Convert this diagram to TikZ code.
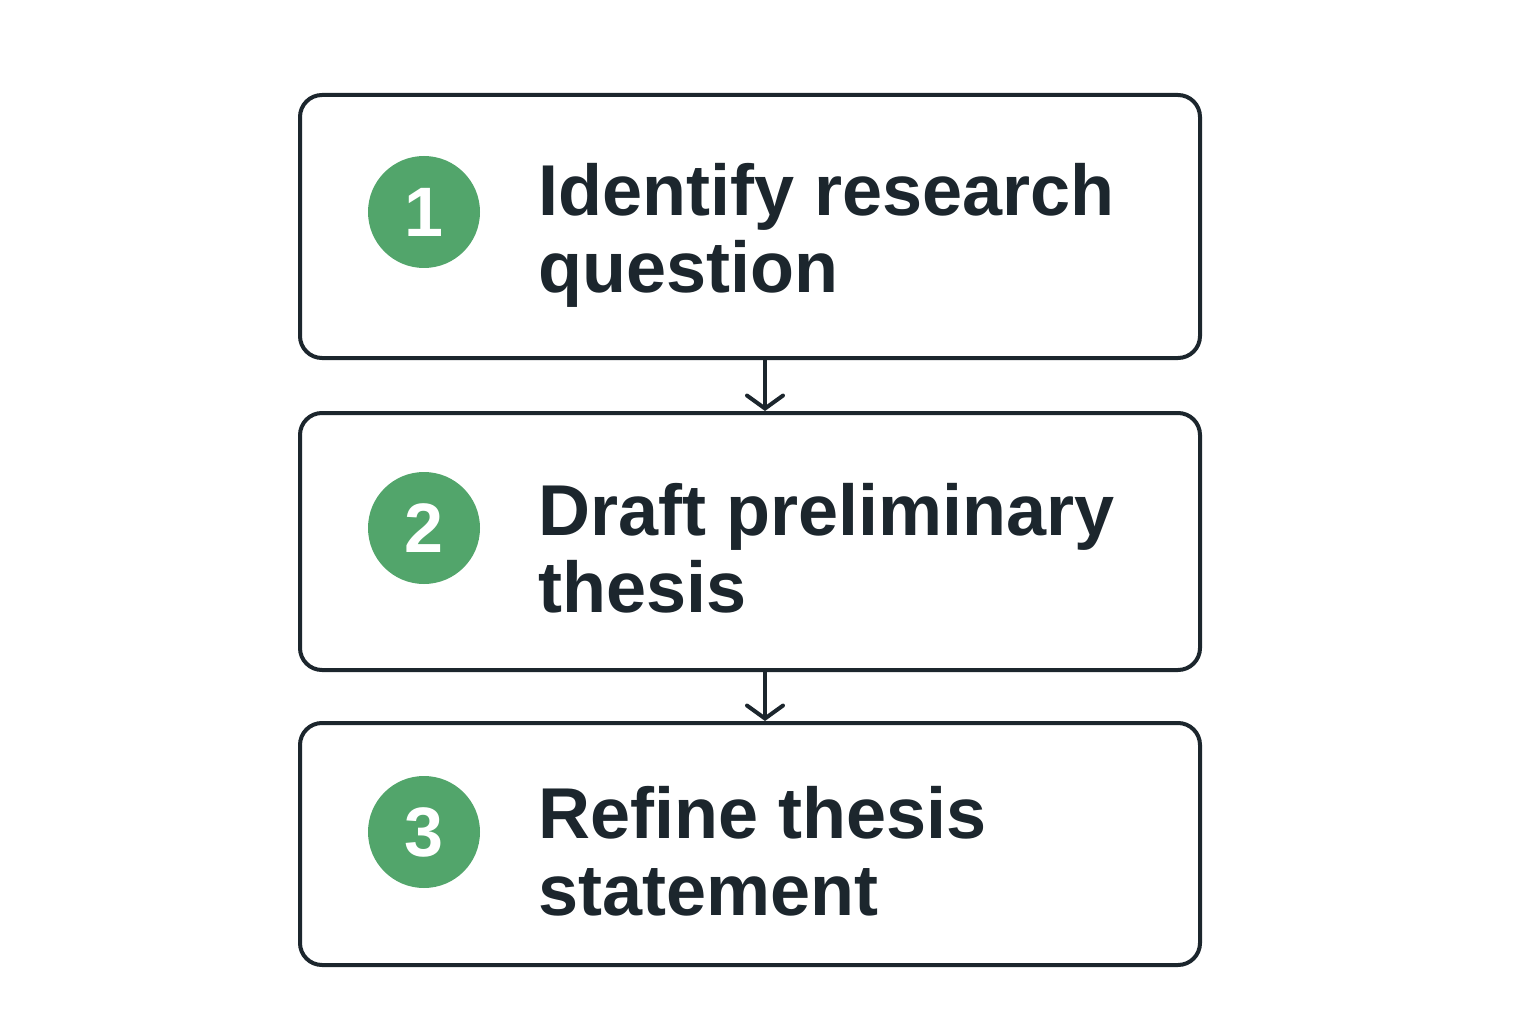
\documentclass[tikz,border=0pt]{standalone}
\usepackage{fontspec}
\setmainfont{Liberation Sans}
\usetikzlibrary{arrows.meta}

\definecolor{ink}{HTML}{1C262D}
\definecolor{stepgreen}{HTML}{52A56B}

\begin{document}
\begin{tikzpicture}
  [
    x = 1pt, y = -1pt,
    stepbox/.style = {draw = ink, line width = 4pt, rounded corners = 22pt,
                      minimum width = 900pt, fill = white},
    badge/.style = {circle, fill = stepgreen, minimum size = 112pt, inner sep = 0pt,
                    text = white, font = \bfseries\fontsize{70}{70}\selectfont},
    label/.style = {anchor = west, align = left, inner sep = 0pt, text = ink,
                    font = \bfseries\fontsize{72}{77}\selectfont},
    flow/.style = {draw = ink, line width = 4pt,
                   -{Straight Barb[length=13pt, width=36pt, line cap=round]}}
  ]
  \useasboundingbox (0,0) rectangle (1536,1024);

  % the three steps
  \node [stepbox, minimum height = 263pt] (B1) at (750,226.5) {};
  \node [stepbox, minimum height = 257pt] (B2) at (750,541.5) {};
  \node [stepbox, minimum height = 242pt] (B3) at (750,844)   {};

  \node [badge] (N1) at (424,212) {1};
  \node [badge] (N2) at (424,528) {2};
  \node [badge] (N3) at (424,832) {3};

  \node [label] (T1) at (538,235) {Identify research\\question};
  \node [label] (T2) at (538,548) {Draft preliminary\\thesis};
  \node [label] (T3) at (538,851) {Refine thesis\\statement};

  % arrows between boxes
  \draw [flow] ([xshift=15pt]B1.south) -- ([xshift=15pt]B2.north);
  \draw [flow] ([xshift=15pt]B2.south) -- ([xshift=15pt]B3.north);
\end{tikzpicture}
\end{document}
